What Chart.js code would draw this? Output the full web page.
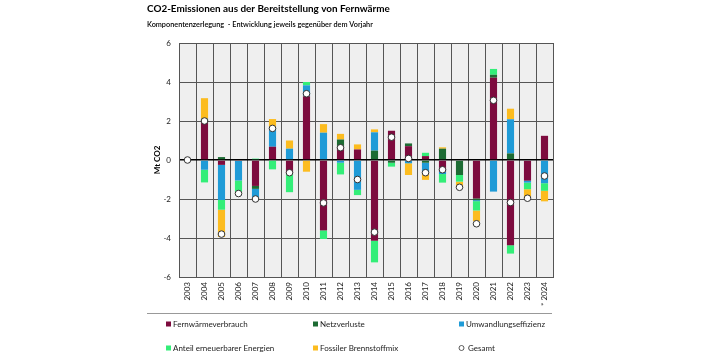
<!DOCTYPE html>
<html><head><meta charset="utf-8">
<script src="https://cdn.jsdelivr.net/npm/chart.js@4/dist/chart.umd.min.js"></script>
<style>html,body{margin:0;padding:0;background:#fff}canvas{display:block}</style>
</head><body>
<canvas id="c" width="707" height="354"></canvas>
<script>
// ---- data ----
const years = ['2003','2004','2005','2006','2007','2008','2009','2010','2011','2012','2013','2014','2015','2016','2017','2018','2019','2020','2021','2022','2023','* 2024'];
const fernwaerme = [0, 2.0, -0.25, -0.05, -1.33, 0.68, -0.67, 3.27, -3.61, 0.68, 0.54, -4.14, 1.5, 0.71, 0.2, -0.6, 0, -1.97, 4.22, -4.37, -1.06, 1.24];
const netzverluste = [0, 0.12, 0.15, 0, -0.15, 0, 0, 0, 0, 0.37, 0, 0.48, -0.14, 0.14, -0.14, 0.58, -0.77, -0.09, 0.15, 0.34, 0, 0];
const umwandlung = [0, -0.5, -1.8, -1.0, -0.45, 0.99, 0.58, 0.56, 1.4, -0.14, -1.53, 0.94, 0, -0.17, -0.5, -0.12, 0, -0.05, -1.62, 1.75, -0.1, -1.19];
const erneuerbar = [0, -0.65, -0.5, -0.6, 0.07, -0.48, -0.98, 0.17, -0.44, -0.6, -0.27, -1.11, -0.2, 0, 0.17, -0.44, -0.34, -0.48, 0.3, -0.43, -0.34, -0.39];
const fossil = [0, 1.05, -1.4, -0.07, -0.1, 0.43, 0.42, -0.6, 0.44, 0.29, 0.26, 0.15, 0, -0.6, -0.38, 0.07, -0.3, -0.55, 0, 0.54, -0.45, -0.54];
const gesamt = [0, 2.0, -3.8, -1.72, -2.0, 1.62, -0.65, 3.4, -2.2, 0.63, -1.0, -3.7, 1.17, 0.08, -0.65, -0.5, -1.4, -3.27, 3.06, -2.18, -1.96, -0.82];
const seriesNames = ['Fernwärmeverbrauch','Netzverluste','Umwandlungseffizienz','Anteil erneuerbarer Energien','Fossiler Brennstoffmix','Gesamt'];
const titleText = 'CO2-Emissionen aus der Bereitstellung von Fernwärme';
const subtitleText = 'Komponentenzerlegung  - Entwicklung jeweils gegenüber dem Vorjahr';
const yTicks = [-6, -4, -2, 0, 2, 4, 6];

const FONT = 'Lato, "Open Sans", sans-serif';
const colors = ['#7d0b3e', '#1d6b33', '#1f9bd7', '#33ee78', '#fcbc1f'];

const bgPlugin = {
  id: 'bg',
  beforeDraw(chart) {
    const {ctx, chartArea: a} = chart;
    ctx.save();
    ctx.fillStyle = '#efefef';
    ctx.fillRect(a.left, a.top, a.right - a.left, a.bottom - a.top);
    ctx.restore();
  }
};

function fitText(ctx, text, weight, targetW, maxSize) {
  ctx.font = weight + ' 10px ' + FONT;
  const w = ctx.measureText(text).width;
  const size = Math.min(maxSize, 10 * targetW / w);
  ctx.font = weight + ' ' + size.toFixed(2) + 'px ' + FONT;
}

const textPlugin = {
  id: 'texts',
  afterDraw(chart) {
    const ctx = chart.ctx;
    ctx.save();
    ctx.fillStyle = '#000';
    ctx.textBaseline = 'middle';
    ctx.textAlign = 'left';
    fitText(ctx, titleText, 'bold', 243, 12);
    ctx.fillText(titleText, 147, 9);
    fitText(ctx, subtitleText, '600', 226, 9);
    ctx.fillText(subtitleText, 147, 25);
    // separator
    ctx.strokeStyle = '#999';
    ctx.lineWidth = 1;
    ctx.beginPath();
    ctx.moveTo(147, 313.5);
    ctx.lineTo(552, 313.5);
    ctx.stroke();
    // legend
    const cols = [166, 313, 459];
    const rows = [324, 348];
    ctx.font = '8px ' + FONT;
    chart.data.datasets.forEach((ds, i) => {
      const x = cols[i % 3], y = rows[Math.floor(i / 3)];
      if (ds.type === 'line') {
        ctx.beginPath();
        ctx.arc(x + 2.5, y, 2.5, 0, Math.PI * 2);
        ctx.fillStyle = '#fff';
        ctx.fill();
        ctx.strokeStyle = '#333';
        ctx.lineWidth = 0.8;
        ctx.stroke();
        ctx.fillStyle = '#222';
        ctx.fillText(ds.label, x + 9, y);
      } else {
        ctx.fillStyle = ds.backgroundColor;
        ctx.fillRect(x, y - 2.5, 5, 5);
        ctx.fillStyle = '#222';
        ctx.fillText(ds.label, x + 7, y);
      }
    });
    ctx.restore();
  }
};

const barData = [fernwaerme, netzverluste, umwandlung, erneuerbar, fossil];
const datasets = barData.map((d, i) => ({
  type: 'bar',
  label: seriesNames[i],
  data: d,
  backgroundColor: colors[i],
  borderWidth: 0,
  barPercentage: 0.42,
  categoryPercentage: 1,
  stack: 'comp',
  order: 1
}));
datasets.push({
  type: 'line',
  label: seriesNames[5],
  data: gesamt,
  showLine: false,
  pointRadius: 3.3,
  pointBackgroundColor: '#fff',
  pointBorderColor: '#333',
  pointBorderWidth: 1,
  stack: 'total',
  order: 0
});

new Chart(document.getElementById('c'), {
  data: { labels: years, datasets },
  options: {
    responsive: false,
    devicePixelRatio: 1,
    animation: false,
    layout: { padding: { top: 43, left: 0, right: 154, bottom: 0 } },
    plugins: { legend: { display: false }, tooltip: { enabled: false } },
    scales: {
      x: {
        stacked: true,
        offset: true,
        afterFit(s) { s.height = 77; },
        grid: { offset: true, color: '#555', lineWidth: 1, drawTicks: false },
        border: { display: true, color: '#555' },
        ticks: { font: { family: FONT, size: 8 }, color: '#222', maxRotation: 90, minRotation: 90, padding: 5, autoSkip: false }
      },
      y: {
        stacked: true,
        min: -6, max: 6,
        afterFit(s) { s.width = 179; },
        afterBuildTicks(s) { s.ticks = yTicks.map(v => ({ value: v })); },
        grid: {
          color: c => c.tick && c.tick.value === 0 ? '#000' : '#555',
          lineWidth: c => c.tick && c.tick.value === 0 ? 1.6 : 1,
          drawTicks: false
        },
        border: { display: true, color: '#555' },
        ticks: { font: { family: FONT, size: 8 }, color: '#222', padding: 8 },
        title: { display: true, text: 'Mt CO2', font: { family: FONT, size: 8, weight: 'bold' }, color: '#000', padding: { top: 153, bottom: 0 } }
      }
    }
  },
  plugins: [bgPlugin, textPlugin]
});
</script>
</body></html>
